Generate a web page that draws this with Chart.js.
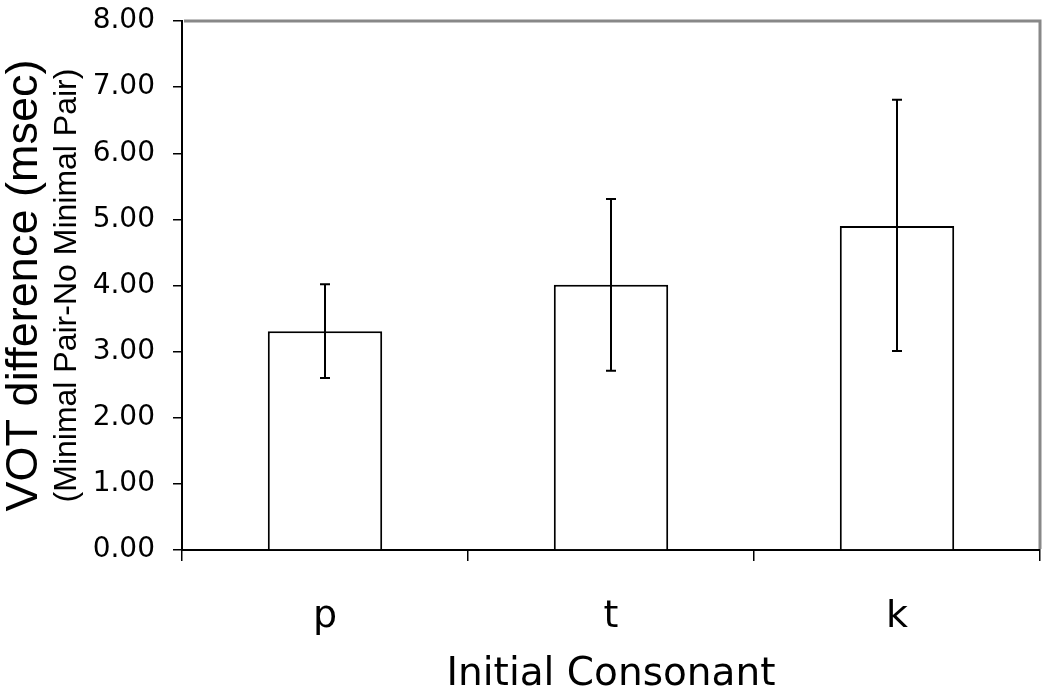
<!DOCTYPE html>
<html>
<head>
<meta charset="utf-8">
<script src="https://cdn.jsdelivr.net/npm/chart.js@4"></script>
<style>
  html, body { margin: 0; padding: 0; background: #fff; }
  #wrap { width: 1050px; height: 694px; }
</style>
</head>
<body>
<div id="wrap"><canvas id="vot"></canvas></div>
<script>
// data
const consonants = ["p", "t", "k"];
const votDiff = [3.31, 4.01, 4.90];
const errLow = [2.60, 2.71, 3.01];
const errHigh = [4.02, 5.31, 6.81];
const yTicks = [0, 1, 2, 3, 4, 5, 6, 7, 8];

// error bars + gray frame (top / right) + two-size y title
const extras = {
  id: "extras",
  afterDatasetsDraw(chart) {
    const ctx = chart.ctx;
    const x = chart.scales.x, y = chart.scales.y;
    ctx.save();
    ctx.strokeStyle = "#000";
    ctx.lineWidth = 2;
    votDiff.forEach((v, i) => {
      const px = x.getPixelForValue(i);
      const top = y.getPixelForValue(errHigh[i]);
      const bot = y.getPixelForValue(errLow[i]);
      ctx.beginPath();
      ctx.moveTo(px, top); ctx.lineTo(px, bot);
      ctx.moveTo(px - 5, top); ctx.lineTo(px + 5, top);
      ctx.moveTo(px - 5, bot); ctx.lineTo(px + 5, bot);
      ctx.stroke();
    });
    ctx.restore();
  },
  afterDraw(chart) {
    const ctx = chart.ctx;
    const a = chart.chartArea;
    ctx.save();
    ctx.strokeStyle = "#888";
    ctx.lineWidth = 3;
    ctx.beginPath();
    ctx.moveTo(a.left + 2, a.top);
    ctx.lineTo(a.right, a.top);
    ctx.lineTo(a.right, a.bottom - 1);
    ctx.stroke();

    const cy = (a.top + a.bottom) / 2;
    ctx.fillStyle = "#000";
    ctx.textAlign = "center";
    ctx.textBaseline = "middle";
    ctx.translate(25, cy);
    ctx.rotate(-Math.PI / 2);
    ctx.font = "45px 'Liberation Sans'";
    ctx.fillText("VOT difference (msec)", 0, 0);
    ctx.font = "32px 'Liberation Sans'";
    ctx.fillText("(Minimal Pair-No Minimal Pair)", 0, 42);
    ctx.restore();
  }
};

new Chart(document.getElementById("vot"), {
  type: "bar",
  data: {
    labels: consonants,
    datasets: [{
      data: votDiff,
      backgroundColor: "#fff",
      borderColor: "#000",
      borderWidth: 2,
      barPercentage: 0.4,
      categoryPercentage: 1
    }]
  },
  options: {
    responsive: true,
    maintainAspectRatio: false,
    animation: false,
    layout: { padding: { top: 21, right: 10, left: 0, bottom: 0 } },
    plugins: { legend: { display: false }, tooltip: { enabled: false } },
    scales: {
      x: {
        afterFit: s => { s.height = 144; s.paddingLeft = 0; s.paddingRight = 0; },
        grid: { display: true, drawOnChartArea: false, color: "#000", lineWidth: 1.5, tickLength: 11, offset: true },
        border: { color: "#000", width: 2 },
        ticks: { color: "#000", font: { family: "DejaVu Sans", size: 38 }, padding: 33 },
        title: {
          display: true, text: "Initial Consonant", color: "#000",
          font: { family: "DejaVu Sans", size: 39, lineHeight: 1.0 }, padding: { top: 0, bottom: 0 }
        }
      },
      y: {
        min: 0, max: 8,
        afterFit: s => { s.width = 182; s.paddingTop = 0; s.paddingBottom = 0; },
        afterBuildTicks: s => { s.ticks = yTicks.map(v => ({ value: v })); },
        grid: { display: true, drawOnChartArea: false, color: "#000", lineWidth: 1.5, tickLength: 9 },
        border: { color: "#000", width: 2 },
        ticks: {
          color: "#000", font: { family: "DejaVu Sans", size: 28 }, padding: 18,
          callback: v => v.toFixed(2)
        }
      }
    }
  },
  plugins: [extras]
});
</script>
</body>
</html>
